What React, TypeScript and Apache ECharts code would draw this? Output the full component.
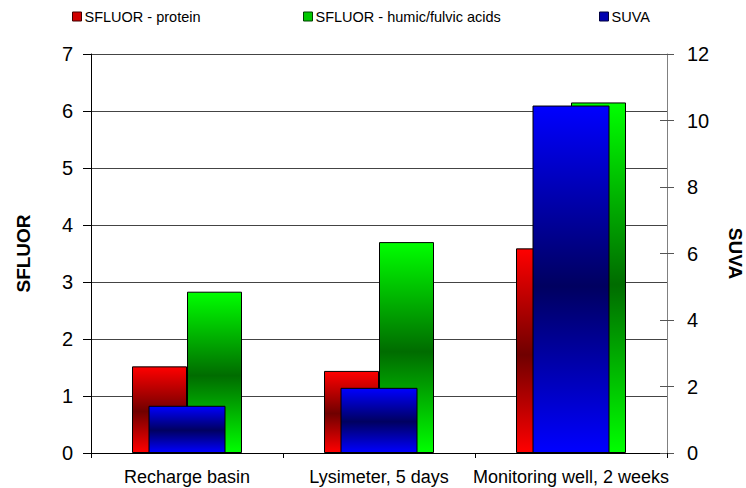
import React, { useEffect, useRef } from "react";
import * as echarts from "echarts";

const categories = ["Recharge basin", "Lysimeter, 5 days", "Monitoring well, 2 weeks"];
const proteinValues = [1.52, 1.44, 3.59];
const humicValues = [2.83, 3.7, 6.15];
const suvaValues = [1.42, 1.96, 10.45];
const seriesNames = ["SFLUOR - protein", "SFLUOR - humic/fulvic acids", "SUVA"];

const FONT = "Liberation Sans, Arial, sans-serif";

function grad(light: string, dark: string) {
  return new echarts.graphic.LinearGradient(0, 0, 0, 1, [
    { offset: 0, color: light },
    { offset: 0.52, color: dark },
    { offset: 1, color: light },
  ]);
}

export default function App() {
  const ref = useRef<HTMLDivElement>(null);
  useEffect(() => {
    if (!ref.current) return;
    const chart = echarts.init(ref.current, null, { renderer: "svg" });
    const legendBase = {
      top: 9,
      padding: 0,
      itemWidth: 9,
      itemHeight: 9,
      icon: "rect",
      textStyle: { fontFamily: FONT, fontSize: 14.5, color: "#000", padding: [0, 0, 0, -2] },
      selectedMode: false,
    };
    chart.setOption({
      animation: false,
      backgroundColor: "#fff",
      legend: [
        { ...legendBase, left: 72, data: [{ name: seriesNames[0], itemStyle: { color: "#d00000", borderColor: "#400000", borderWidth: 1 } }] },
        { ...legendBase, left: 303, data: [{ name: seriesNames[1], itemStyle: { color: "#00c800", borderColor: "#004000", borderWidth: 1 } }] },
        { ...legendBase, left: 599, data: [{ name: seriesNames[2], itemStyle: { color: "#0000b0", borderColor: "#000040", borderWidth: 1 } }] },
      ],
      grid: { left: 91, right: 79, top: 54, bottom: 35, containLabel: false, outerBoundsMode: "none" },
      xAxis: [
        {
          type: "category",
          data: categories,
          axisLine: { lineStyle: { color: "#000", width: 1 } },
          axisTick: { show: true, length: 5, lineStyle: { color: "#000" } },
          axisLabel: { fontFamily: FONT, fontSize: 18, color: "#000", margin: 15, interval: 0 },
        },
        {
          type: "category",
          data: categories,
          show: false,
        },
      ],
      yAxis: [
        {
          type: "value",
          min: 0,
          max: 7,
          interval: 1,
          position: "left",
          name: "SFLUOR",
          nameLocation: "middle",
          nameRotate: 90,
          nameGap: 58,
          nameTextStyle: { fontFamily: FONT, fontSize: 19, fontWeight: "bold", color: "#000" },
          axisLine: { show: true, lineStyle: { color: "#000", width: 1 } },
          axisTick: { show: true, length: 8, lineStyle: { color: "#000" } },
          axisLabel: { fontFamily: FONT, fontSize: 20, color: "#000", margin: 18 },
          splitLine: { show: true, lineStyle: { color: "#444", width: 1 } },
        },
        {
          type: "value",
          min: 0,
          max: 12,
          interval: 2,
          position: "right",
          name: "SUVA",
          nameLocation: "middle",
          nameRotate: -90,
          nameGap: 59,
          nameTextStyle: { fontFamily: FONT, fontSize: 19, fontWeight: "bold", color: "#000" },
          axisLine: { show: true, lineStyle: { color: "#808080", width: 1 } },
          axisTick: { show: true, length: 7, lineStyle: { color: "#555" } },
          axisLabel: { fontFamily: FONT, fontSize: 20, color: "#000", margin: 20 },
          splitLine: { show: false },
        },
        {
          type: "value",
          min: 0,
          max: 12,
          interval: 2,
          position: "right",
          axisLine: { show: false },
          axisTick: { show: true, inside: true, length: 7, lineStyle: { color: "#555" } },
          axisLabel: { show: false },
          splitLine: { show: false },
        },
      ],
      series: [
        {
          name: seriesNames[0],
          type: "bar",
          xAxisIndex: 0,
          yAxisIndex: 0,
          data: proteinValues,
          barWidth: 55,
          barGap: "0%",
          itemStyle: { color: grad("#ff0000", "#700000"), borderColor: "#000", borderWidth: 1 },
        },
        {
          name: seriesNames[1],
          type: "bar",
          xAxisIndex: 0,
          yAxisIndex: 0,
          data: humicValues,
          barWidth: 55,
          barGap: "0%",
          itemStyle: { color: grad("#00ff00", "#006c00"), borderColor: "#000", borderWidth: 1 },
        },
        {
          name: seriesNames[2],
          type: "bar",
          xAxisIndex: 1,
          yAxisIndex: 1,
          data: suvaValues,
          barWidth: 77,
          z: 3,
          itemStyle: { color: grad("#0000ff", "#000060"), borderColor: "#000", borderWidth: 1 },
        },
      ],
    });
    return () => chart.dispose();
  }, []);
  return (
    <div
      ref={ref}
      style={{ position: "absolute", left: 0, top: 0, width: 746, height: 488 }}
    />
  );
}
